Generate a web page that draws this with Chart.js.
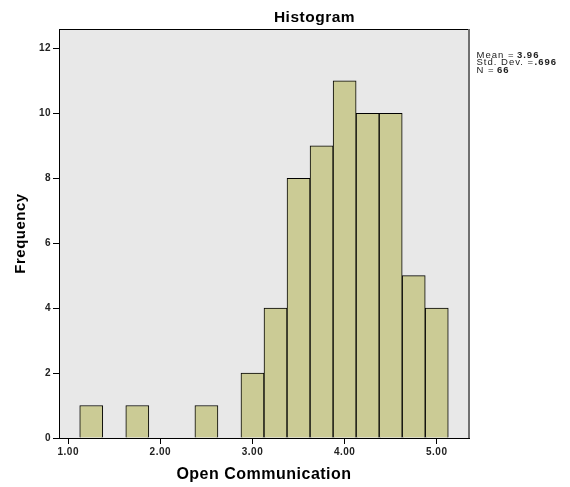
<!DOCTYPE html>
<html>
<head>
<meta charset="utf-8">
<script src="https://cdn.jsdelivr.net/npm/chart.js@4"></script>
<style>
  html, body { margin: 0; padding: 0; background: #ffffff; }
  #canvas1 { display: block; }
</style>
</head>
<body>
<canvas id="canvas1" width="570" height="487"></canvas>
<script>
// Histogram of Open Communication (SPSS style)

// Bin centres (bin width 0.25) and the count in each bin
const binCenters = [1.25, 1.75, 2.5, 3.0, 3.25, 3.5, 3.75, 4.0, 4.25, 4.5, 4.75, 5.0]
const frequencies = [1, 1, 1, 2, 4, 8, 9, 11, 10, 10, 5, 4]

// Axis ticks
const xTickValues = [1, 2, 3, 4, 5]
const yTickValues = [0, 2, 4, 6, 8, 10, 12]

// Summary statistics shown at the right
const statMean = '3.96'
const statStdDev = '.696'
const statN = '66'

const FONT = "'Liberation Sans', Arial, Helvetica, sans-serif"

// SPSS text is a little spaced out; the canvas state is reset on init, so set it again here
const textSpacing = {
    id: 'textSpacing',
    beforeUpdate(chart) { chart.ctx.letterSpacing = '0.5px' },
    beforeDraw(chart) { chart.ctx.letterSpacing = '0.5px' }
}

// Grey plot background plus the frame round it
const plotFrame = {
    id: 'plotFrame',
    beforeDraw(chart) {
        const { ctx, chartArea } = chart
        ctx.save()
        ctx.fillStyle = '#e8e8e8'
        ctx.fillRect(chartArea.left, chartArea.top, chartArea.right - chartArea.left, chartArea.bottom - chartArea.top)
        ctx.restore()
    },
    afterDraw(chart) {
        const { ctx, chartArea } = chart
        ctx.save()
        ctx.strokeStyle = '#000000'
        ctx.lineWidth = 1
        ctx.beginPath()
        ctx.moveTo(chartArea.left, chartArea.top + 0.5)
        ctx.lineTo(chartArea.right, chartArea.top + 0.5)
        ctx.stroke()
        ctx.strokeStyle = '#707070'
        ctx.lineWidth = 2
        ctx.beginPath()
        ctx.moveTo(chartArea.right, chartArea.top)
        ctx.lineTo(chartArea.right, chartArea.bottom)
        ctx.stroke()
        ctx.restore()
    }
}

// Title and the statistics block
const headerText = {
    id: 'headerText',
    afterDraw(chart) {
        const { ctx, chartArea, width } = chart
        ctx.save()
        ctx.fillStyle = '#000000'
        ctx.font = 'bold 15.5px ' + FONT
        ctx.textAlign = 'center'
        ctx.textBaseline = 'alphabetic'
        ctx.fillText('Histogram', (chartArea.left + width) / 2, 22)

        const x = chartArea.right + 7.5
        const lines = [
            ['Mean =', statMean, 2.5],
            ['Std. Dev. =', statStdDev, 0.5],
            ['N =', statN, 2.5]
        ]
        ctx.textAlign = 'left'
        ctx.fillStyle = '#222222'
        ctx.letterSpacing = '1px'
        lines.forEach((line, i) => {
            const y = chartArea.top + 28.5 + i * 7.5
            ctx.font = '9.5px ' + FONT
            ctx.fillText(line[0], x, y)
            const w = ctx.measureText(line[0]).width
            ctx.font = 'bold 9.5px ' + FONT
            ctx.fillText(line[1], x + w + line[2], y)
        })
        ctx.restore()
    }
}

const config = {
    type: 'bar',
    data: {
        datasets: [{
            label: 'Frequency',
            data: binCenters.map((c, i) => ({ x: c, y: frequencies[i] })),
            backgroundColor: '#cbcb95',
            borderColor: '#000000',
            borderWidth: 1,
            barPercentage: 1,
            categoryPercentage: 1
        }]
    },
    options: {
        responsive: false,
        animation: false,
        layout: {
            padding: { top: 29, right: 101, bottom: 0, left: 0 }
        },
        plugins: {
            legend: { display: false },
            tooltip: { enabled: false },
            title: { display: false }
        },
        scales: {
            x: {
                type: 'linear',
                offset: false,
                min: 0.9,
                max: 5.35,
                afterFit(scale) { scale.height = 49 },
                afterBuildTicks(scale) { scale.ticks = xTickValues.map(v => ({ value: v })) },
                grid: {
                    display: true,
                    offset: false,
                    drawOnChartArea: false,
                    drawTicks: true,
                    tickLength: 6,
                    color: '#000000'
                },
                border: { display: true, color: '#000000', width: 1 },
                ticks: {
                    padding: 2,
                    color: '#222222',
                    maxRotation: 0,
                    font: { size: 10, weight: 'bold', family: FONT },
                    callback: value => value.toFixed(2)
                },
                title: {
                    display: true,
                    text: 'Open Communication',
                    color: '#000000',
                    padding: { top: 0, bottom: 3 },
                    font: { size: 16, weight: 'bold', family: FONT }
                }
            },
            y: {
                min: 0,
                max: 12.6,
                afterFit(scale) { scale.width = 59 },
                afterBuildTicks(scale) { scale.ticks = yTickValues.map(v => ({ value: v })) },
                grid: {
                    display: true,
                    drawOnChartArea: false,
                    drawTicks: true,
                    tickLength: 6,
                    color: '#000000'
                },
                border: { display: true, color: '#000000', width: 1 },
                ticks: {
                    padding: 2,
                    color: '#222222',
                    font: { size: 10, weight: 'bold', family: FONT },
                    callback: value => String(value)
                },
                title: {
                    display: true,
                    text: 'Frequency',
                    color: '#000000',
                    padding: { top: 12, bottom: 0 },
                    font: { size: 15, weight: 'bold', family: FONT }
                }
            }
        }
    },
    plugins: [textSpacing, plotFrame, headerText]
}

const canvas = document.getElementById('canvas1')
new Chart(canvas.getContext('2d'), config)
</script>
</body>
</html>
